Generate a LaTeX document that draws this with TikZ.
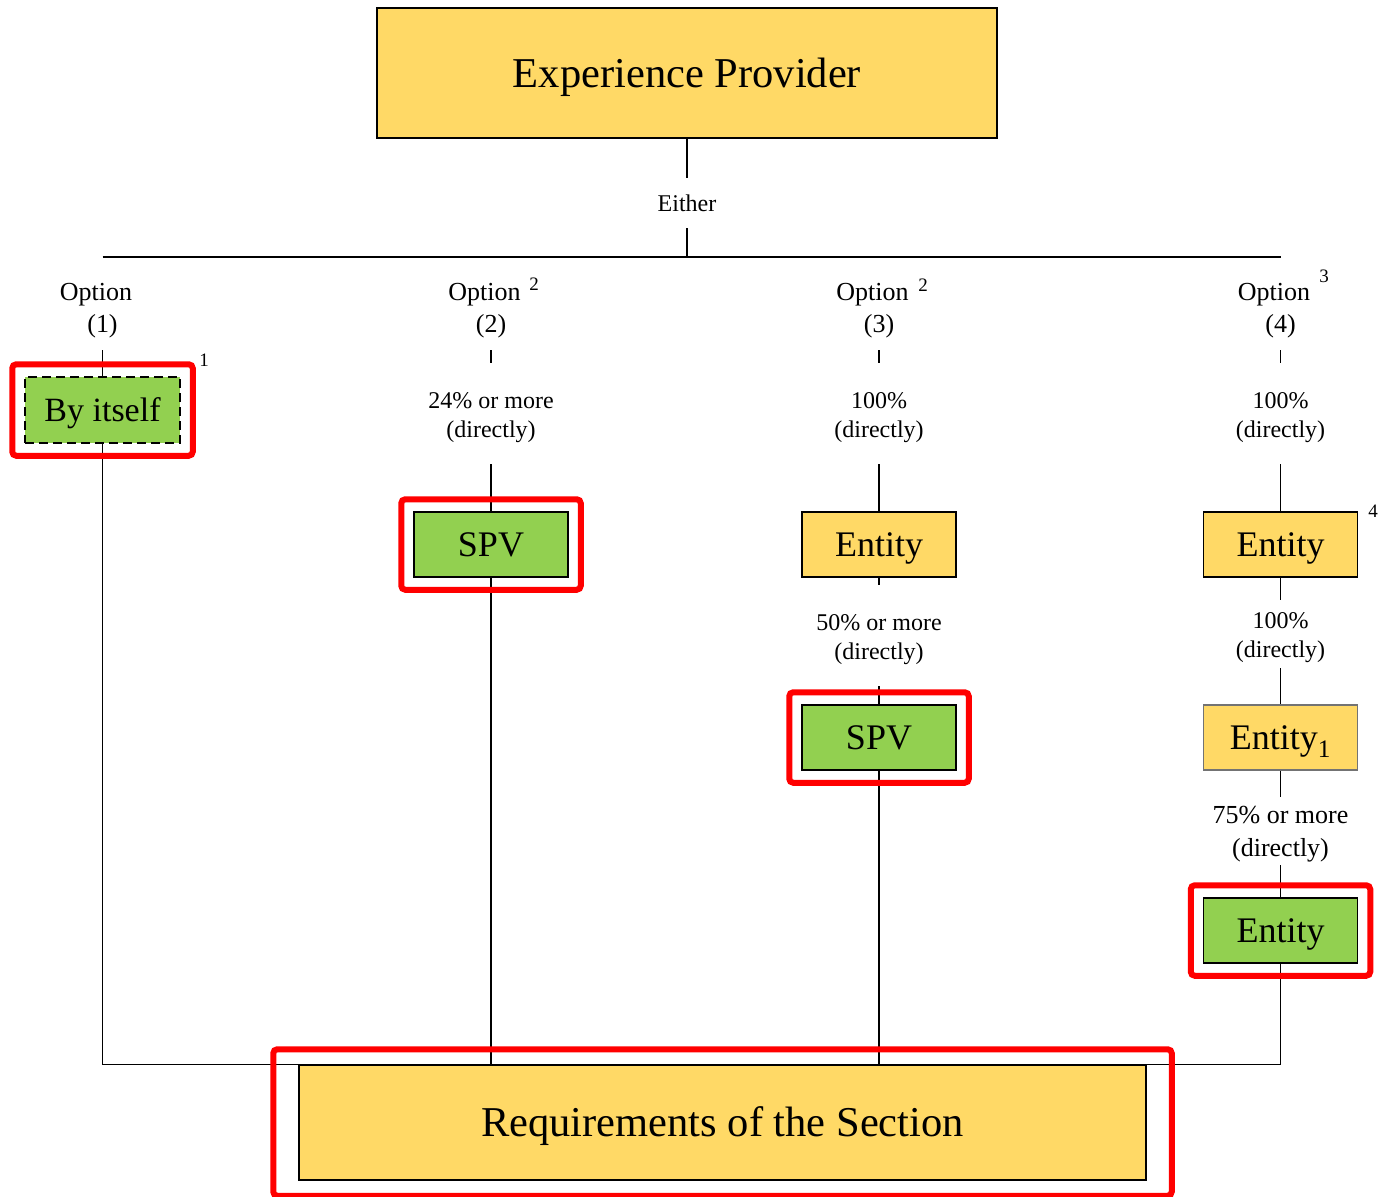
\documentclass[tikz,border=0pt]{standalone}
\usepackage{fontspec}
\setmainfont{Liberation Serif}
\usetikzlibrary{fit}
\definecolor{yel}{HTML}{FFD966}
\definecolor{grn}{HTML}{92D050}
\definecolor{redc}{HTML}{FF0000}
\begin{document}
\begin{tikzpicture}[x=1pt,y=-1pt,
  line/.style={line width=1.3pt},
  box/.style={draw, line width=1.5pt, inner sep=0pt, minimum width=154pt, minimum height=65pt, text height=24pt, text depth=0pt, font=\fontsize{36}{40}\selectfont},
  ybox/.style={box, fill=yel},
  gbox/.style={box, fill=grn},
  lab/.style={inner sep=0pt, align=center, font=\fontsize{24}{29}\selectfont},
  opt/.style={inner sep=0pt, align=center, minimum height=78pt, font=\fontsize{26}{32}\selectfont},
  redbox/.style={draw=redc, line width=6pt, rounded corners=4pt, inner sep=12pt},
  supn/.style={inner sep=0pt, font=\fontsize{19}{20}\selectfont}]
\useasboundingbox (0,0) rectangle (1385,1197);

% top
\node[ybox, minimum width=620pt, minimum height=130pt, text height=28pt, font=\fontsize{42.5}{48}\selectfont] (ep) at (687,73) {Experience Provider};
\node[lab, minimum height=50pt] (either) at (687,203) {Either};
\coordinate (hl) at (102.5,257);
\coordinate (hr) at (1280.5,257);
\coordinate (hj) at (687,257);

% option labels
\node[opt] (o1) at (102.5,311) {Option\hphantom{x}\\(1)};
\node[opt] (o2) at (491,311) {Option\hphantom{x}\\(2)};
\node[opt] (o3) at (879,311) {Option\hphantom{x}\\(3)};
\node[opt] (o4) at (1280.5,311) {Option\hphantom{x}\\(4)};
\node[supn] (s1) at (204,360) {1};
\node[supn] (s2) at (534,284) {2};
\node[supn] (s3) at (923,285) {2};
\node[supn] (s4) at (1324,276) {3};
\node[supn] (s5) at (1373,511) {4};

% column 1
\node[gbox, dashed, dash pattern=on 9pt off 5pt, minimum width=155pt, minimum height=66pt, text height=22.5pt, font=\fontsize{34}{38}\selectfont] (by) at (102.5,410) {By itself};

% column 2
\node[lab, minimum height=101pt] (lab2) at (491,417.5) {24\% or more\\(directly)};
\node[gbox] (spv2) at (491,544.5) {SPV};

% column 3
\node[lab, minimum height=101pt] (lab3) at (879,417.5) {100\%\\(directly)};
\node[ybox] (ent3) at (879,544.5) {Entity};
\node[lab, minimum height=101pt] (lab3b) at (879,639.5) {50\% or more\\(directly)};
\node[gbox] (spv3) at (879,737.5) {SPV};

% column 4
\node[lab, minimum height=101pt] (lab4) at (1280.5,417.5) {100\%\\(directly)};
\node[ybox] (ent4) at (1280.5,544.5) {Entity};
\node[lab, minimum height=68pt] (lab4b) at (1280.5,638) {100\%\\(directly)};
\node[ybox, draw=black!55] (ent41) at (1280.5,737.5) {Entity\textsubscript{1}};
\node[lab, minimum height=68pt, font=\fontsize{26}{33}\selectfont] (lab4c) at (1280.5,834) {75\% or more\\(directly)};
\node[gbox] (ent4c) at (1280.5,930.5) {Entity};

% bottom
\node[ybox, minimum width=847pt, minimum height=115pt, text height=28pt, font=\fontsize{42.5}{48}\selectfont] (req) at (722.5,1122.5) {Requirements of the Section};

% connectors
\draw[line] (ep.south) -- (either.north);
\draw[line] (either.south) -- (hj);
\draw[line] (hl) -- (hr);
\draw[line] (o1.south) -- (by.north);
\draw[line] (by.south) |- (req.north west) -- (req.north east) -| (ent4c.south);
\draw[line] (o2.south) -- ([yshift=4pt]lab2.north);
\draw[line] ([yshift=4pt]lab2.south) -- (spv2.north);
\draw[line] (spv2.south) -- (spv2.south |- req.north);
\draw[line] (o3.south) -- ([yshift=4pt]lab3.north);
\draw[line] ([yshift=4pt]lab3.south) -- (ent3.north);
\draw[line] (ent3.south) -- ([yshift=4pt]lab3b.north);
\draw[line] ([yshift=4pt]lab3b.south) -- (spv3.north);
\draw[line] (spv3.south) -- (spv3.south |- req.north);
\draw[line] (o4.south) -- ([yshift=4pt]lab4.north);
\draw[line] ([yshift=4pt]lab4.south) -- (ent4.north);
\draw[line] (ent4.south) -- ([yshift=4pt]lab4b.north);
\draw[line] ([yshift=4pt]lab4b.south) -- (ent41.north);
\draw[line] (ent41.south) -- ([yshift=3pt]lab4c.north);
\draw[line] ([yshift=3pt]lab4c.south) -- (ent4c.north);

% red highlight frames
\node[redbox, fit=(by)] (r1) {};
\node[redbox, fit=(spv2)] (r2) {};
\node[redbox, fit=(spv3)] (r3) {};
\node[redbox, fit=(ent4c)] (r4) {};
\node[redbox, inner xsep=25pt, inner ysep=15pt, fit=(req)] (r5) {};
\end{tikzpicture}
\end{document}
